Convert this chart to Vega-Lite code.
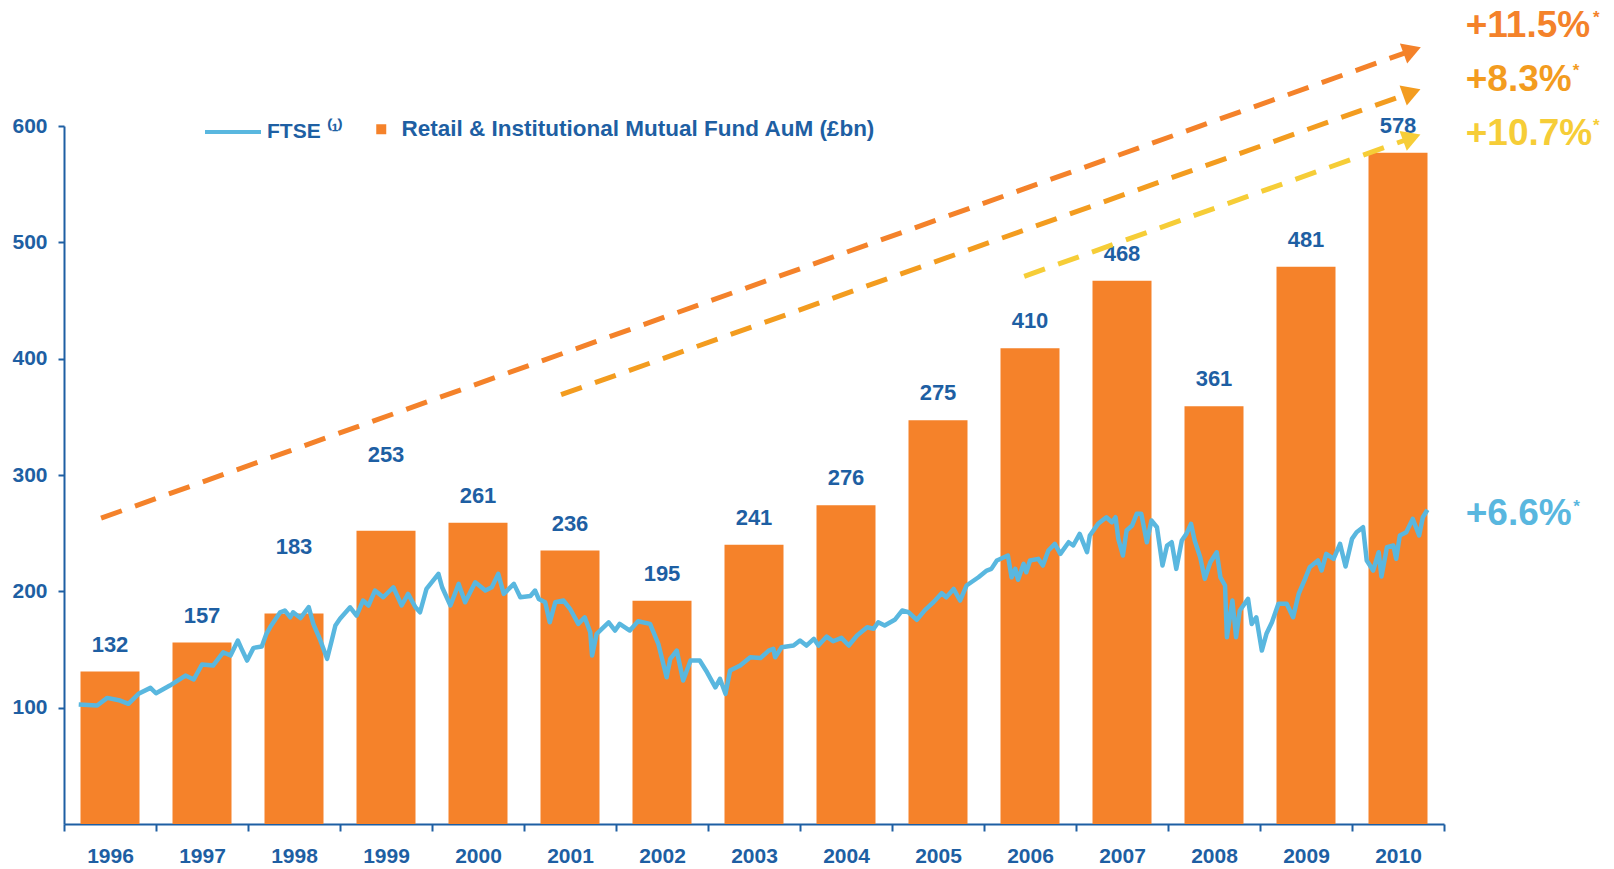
{
  "$schema": "https://vega.github.io/schema/vega-lite/v6.json",
  "width": 1380,
  "height": 698,
  "autosize": {"type": "none"},
  "padding": {"left": 64, "top": 126, "right": 170, "bottom": 45},
  "background": "white",
  "config": {
    "view": {"stroke": null},
    "font": "Liberation Sans",
    "legend": {"labelLimit": 1000, "padding": 0, "title": null}
  },
  "datasets": {
    "aum": [
      {"year": 1996, "aum": 131, "label": "132", "label_y": 131},
      {"year": 1997, "aum": 156, "label": "157", "label_y": 156},
      {"year": 1998, "aum": 181, "label": "183", "label_y": 215},
      {"year": 1999, "aum": 252, "label": "253", "label_y": 294},
      {"year": 2000, "aum": 259, "label": "261", "label_y": 259},
      {"year": 2001, "aum": 235, "label": "236", "label_y": 235},
      {"year": 2002, "aum": 192, "label": "195", "label_y": 192},
      {"year": 2003, "aum": 240, "label": "241", "label_y": 240},
      {"year": 2004, "aum": 274, "label": "276", "label_y": 274},
      {"year": 2005, "aum": 347, "label": "275", "label_y": 347},
      {"year": 2006, "aum": 409, "label": "410", "label_y": 409},
      {"year": 2007, "aum": 467, "label": "468", "label_y": 467},
      {"year": 2008, "aum": 359, "label": "361", "label_y": 359},
      {"year": 2009, "aum": 479, "label": "481", "label_y": 479},
      {"year": 2010, "aum": 577, "label": "578", "label_y": 577}
    ],
    "ftse": [
      {"t": 1995.66, "v": 102.7}, {"t": 1995.86, "v": 101.8}, {"t": 1995.97, "v": 108.4}, {"t": 1996.11, "v": 106.1},
      {"t": 1996.20, "v": 103.3}, {"t": 1996.31, "v": 111.9}, {"t": 1996.44, "v": 117.0}, {"t": 1996.50, "v": 112.4},
      {"t": 1996.65, "v": 119.0}, {"t": 1996.82, "v": 127.6}, {"t": 1996.91, "v": 124.2}, {"t": 1997.00, "v": 137.1},
      {"t": 1997.12, "v": 136.2}, {"t": 1997.23, "v": 147.6}, {"t": 1997.31, "v": 144.8}, {"t": 1997.39, "v": 157.7},
      {"t": 1997.43, "v": 150.6}, {"t": 1997.49, "v": 140.5}, {"t": 1997.56, "v": 151.4}, {"t": 1997.65, "v": 152.5},
      {"t": 1997.70, "v": 163.5}, {"t": 1997.74, "v": 169.1}, {"t": 1997.85, "v": 182.0}, {"t": 1997.90, "v": 183.5},
      {"t": 1997.96, "v": 177.7}, {"t": 1997.99, "v": 182.0}, {"t": 1998.07, "v": 177.0}, {"t": 1998.16, "v": 186.5},
      {"t": 1998.21, "v": 172.0}, {"t": 1998.28, "v": 159.2}, {"t": 1998.36, "v": 142.0}, {"t": 1998.41, "v": 157.7},
      {"t": 1998.45, "v": 170.6}, {"t": 1998.50, "v": 176.4}, {"t": 1998.61, "v": 186.3}, {"t": 1998.68, "v": 179.2},
      {"t": 1998.75, "v": 192.1}, {"t": 1998.81, "v": 187.8}, {"t": 1998.88, "v": 200.7}, {"t": 1998.97, "v": 194.9},
      {"t": 1999.08, "v": 203.5}, {"t": 1999.17, "v": 187.8}, {"t": 1999.24, "v": 197.8}, {"t": 1999.32, "v": 186.3},
      {"t": 1999.37, "v": 182.0}, {"t": 1999.44, "v": 202.1}, {"t": 1999.57, "v": 215.0}, {"t": 1999.61, "v": 203.5},
      {"t": 1999.70, "v": 187.8}, {"t": 1999.79, "v": 206.4}, {"t": 1999.86, "v": 190.6}, {"t": 1999.97, "v": 207.8},
      {"t": 2000.08, "v": 200.7}, {"t": 2000.15, "v": 203.5}, {"t": 2000.22, "v": 215.0}, {"t": 2000.28, "v": 197.8},
      {"t": 2000.39, "v": 206.4}, {"t": 2000.46, "v": 194.9}, {"t": 2000.57, "v": 196.0}, {"t": 2000.62, "v": 200.7},
      {"t": 2000.66, "v": 193.5}, {"t": 2000.73, "v": 190.6}, {"t": 2000.78, "v": 173.4}, {"t": 2000.84, "v": 190.6},
      {"t": 2000.93, "v": 192.1}, {"t": 2001.00, "v": 185.0}, {"t": 2001.09, "v": 172.0}, {"t": 2001.16, "v": 177.7},
      {"t": 2001.22, "v": 164.8}, {"t": 2001.24, "v": 144.8}, {"t": 2001.29, "v": 163.5}, {"t": 2001.42, "v": 173.4},
      {"t": 2001.49, "v": 166.3}, {"t": 2001.54, "v": 172.0}, {"t": 2001.65, "v": 166.3}, {"t": 2001.74, "v": 174.3},
      {"t": 2001.87, "v": 172.0}, {"t": 2001.96, "v": 154.9}, {"t": 2002.05, "v": 126.1}, {"t": 2002.09, "v": 142.0},
      {"t": 2002.16, "v": 149.1}, {"t": 2002.23, "v": 123.3}, {"t": 2002.31, "v": 140.5}, {"t": 2002.41, "v": 140.5},
      {"t": 2002.49, "v": 130.4}, {"t": 2002.58, "v": 117.5}, {"t": 2002.63, "v": 124.8}, {"t": 2002.69, "v": 111.9},
      {"t": 2002.74, "v": 131.9}, {"t": 2002.85, "v": 136.2}, {"t": 2002.96, "v": 143.3}, {"t": 2003.07, "v": 142.6},
      {"t": 2003.16, "v": 149.1}, {"t": 2003.21, "v": 150.6}, {"t": 2003.23, "v": 143.3}, {"t": 2003.30, "v": 151.9},
      {"t": 2003.43, "v": 153.4}, {"t": 2003.50, "v": 157.7}, {"t": 2003.57, "v": 153.4}, {"t": 2003.65, "v": 159.2},
      {"t": 2003.70, "v": 153.4}, {"t": 2003.79, "v": 161.1}, {"t": 2003.86, "v": 157.1}, {"t": 2003.95, "v": 160.0},
      {"t": 2004.03, "v": 153.4}, {"t": 2004.12, "v": 162.0}, {"t": 2004.23, "v": 169.1}, {"t": 2004.30, "v": 167.8},
      {"t": 2004.35, "v": 173.4}, {"t": 2004.42, "v": 170.6}, {"t": 2004.53, "v": 175.5}, {"t": 2004.61, "v": 183.5},
      {"t": 2004.68, "v": 182.0}, {"t": 2004.77, "v": 175.5}, {"t": 2004.86, "v": 184.1}, {"t": 2004.95, "v": 190.6},
      {"t": 2005.04, "v": 198.4}, {"t": 2005.09, "v": 194.9}, {"t": 2005.17, "v": 202.1}, {"t": 2005.24, "v": 192.1},
      {"t": 2005.31, "v": 205.0}, {"t": 2005.44, "v": 212.1}, {"t": 2005.53, "v": 217.9}, {"t": 2005.58, "v": 219.3},
      {"t": 2005.64, "v": 226.5}, {"t": 2005.76, "v": 230.8}, {"t": 2005.80, "v": 212.1}, {"t": 2005.84, "v": 219.3},
      {"t": 2005.87, "v": 209.9}, {"t": 2005.93, "v": 223.6}, {"t": 2005.96, "v": 216.4}, {"t": 2006.00, "v": 226.5},
      {"t": 2006.09, "v": 227.9}, {"t": 2006.14, "v": 222.2}, {"t": 2006.20, "v": 235.1}, {"t": 2006.27, "v": 240.8},
      {"t": 2006.33, "v": 232.2}, {"t": 2006.42, "v": 242.2}, {"t": 2006.47, "v": 239.4}, {"t": 2006.54, "v": 249.4},
      {"t": 2006.62, "v": 233.6}, {"t": 2006.65, "v": 248.0}, {"t": 2006.74, "v": 258.0}, {"t": 2006.83, "v": 263.7},
      {"t": 2006.89, "v": 259.4}, {"t": 2006.93, "v": 263.7}, {"t": 2006.96, "v": 245.1}, {"t": 2007.01, "v": 230.8},
      {"t": 2007.05, "v": 252.3}, {"t": 2007.11, "v": 256.6}, {"t": 2007.16, "v": 266.6}, {"t": 2007.21, "v": 266.6},
      {"t": 2007.27, "v": 242.2}, {"t": 2007.32, "v": 260.9}, {"t": 2007.38, "v": 255.1}, {"t": 2007.44, "v": 222.2},
      {"t": 2007.49, "v": 239.4}, {"t": 2007.54, "v": 242.2}, {"t": 2007.59, "v": 219.3}, {"t": 2007.65, "v": 243.7},
      {"t": 2007.70, "v": 249.4}, {"t": 2007.75, "v": 258.0}, {"t": 2007.79, "v": 243.7}, {"t": 2007.85, "v": 229.3},
      {"t": 2007.90, "v": 210.7}, {"t": 2007.96, "v": 225.0}, {"t": 2008.03, "v": 233.6}, {"t": 2008.07, "v": 212.0},
      {"t": 2008.12, "v": 205.0}, {"t": 2008.14, "v": 160.5}, {"t": 2008.20, "v": 192.1}, {"t": 2008.24, "v": 160.5},
      {"t": 2008.28, "v": 183.5}, {"t": 2008.37, "v": 193.5}, {"t": 2008.41, "v": 172.0}, {"t": 2008.46, "v": 177.7},
      {"t": 2008.52, "v": 149.1}, {"t": 2008.57, "v": 163.5}, {"t": 2008.63, "v": 173.4}, {"t": 2008.70, "v": 189.3},
      {"t": 2008.79, "v": 189.3}, {"t": 2008.86, "v": 177.7}, {"t": 2008.92, "v": 197.8}, {"t": 2008.99, "v": 210.7},
      {"t": 2009.04, "v": 220.7}, {"t": 2009.13, "v": 226.5}, {"t": 2009.17, "v": 217.9}, {"t": 2009.22, "v": 232.2},
      {"t": 2009.30, "v": 227.9}, {"t": 2009.37, "v": 240.8}, {"t": 2009.43, "v": 221.3}, {"t": 2009.50, "v": 245.1},
      {"t": 2009.55, "v": 250.8}, {"t": 2009.62, "v": 255.1}, {"t": 2009.66, "v": 226.5}, {"t": 2009.73, "v": 217.9},
      {"t": 2009.79, "v": 233.6}, {"t": 2009.82, "v": 212.7}, {"t": 2009.88, "v": 237.9}, {"t": 2009.95, "v": 239.4},
      {"t": 2009.98, "v": 227.9}, {"t": 2010.02, "v": 248.0}, {"t": 2010.09, "v": 250.8}, {"t": 2010.16, "v": 262.3},
      {"t": 2010.23, "v": 248.0}, {"t": 2010.27, "v": 263.7}, {"t": 2010.32, "v": 270.1}
    ],
    "trends": [
      {"series": "+11.5%", "point": "start", "t": 1995.903, "v": 262.9},
      {"series": "+11.5%", "point": "end", "t": 2010.154, "v": 665.0},
      {"series": "+8.3%", "point": "start", "t": 2000.903, "v": 369.0},
      {"series": "+8.3%", "point": "end", "t": 2010.15, "v": 628.9},
      {"series": "+10.7%", "point": "start", "t": 2005.937, "v": 470.8},
      {"series": "+10.7%", "point": "end", "t": 2010.15, "v": 589.9}
    ],
    "growth": [
      {"series": "+11.5%", "t": 2010.736, "v": 676.8, "ts": 2012.12, "vs": 688.6},
      {"series": "+8.3%", "t": 2010.736, "v": 630.4, "ts": 2011.899, "vs": 643.3},
      {"series": "+10.7%", "t": 2010.736, "v": 583.7, "ts": 2012.12, "vs": 596.1},
      {"series": "+6.6%", "t": 2010.736, "v": 257.0, "ts": 2011.905, "vs": 268.5}
    ]
  },
  "layer": [
    {
      "data": {"name": "aum"},
      "mark": {"type": "bar", "size": 59},
      "encoding": {
        "x": {
          "field": "year", "type": "quantitative",
          "scale": {"domain": [1995.5, 2010.5], "nice": false, "zero": false, "padding": 0},
          "axis": {
            "title": null, "grid": false,
            "values": [1995.5, 1996, 1996.5, 1997, 1997.5, 1998, 1998.5, 1999, 1999.5, 2000, 2000.5, 2001, 2001.5, 2002, 2002.5, 2003, 2003.5, 2004, 2004.5, 2005, 2005.5, 2006, 2006.5, 2007, 2007.5, 2008, 2008.5, 2009, 2009.5, 2010, 2010.5],
            "labelExpr": "datum.value % 1 === 0 ? format(datum.value, 'd') : ''",
            "labelOverlap": false, "labelFlush": false, "labelBound": false,
            "tickSize": 7, "tickWidth": 2, "tickColor": "#1E5FA3",
            "tickOpacity": {"condition": {"test": "datum.value % 1 === 0", "value": 0}, "value": 1},
            "domainColor": "#1E5FA3", "domainWidth": 2,
            "labelFont": "Liberation Sans", "labelFontSize": 21, "labelFontWeight": "bold",
            "labelColor": "#1E5FA3", "labelPadding": 14
          }
        },
        "y": {
          "field": "aum", "type": "quantitative",
          "scale": {"domain": [0, 600], "nice": false},
          "axis": {
            "title": null, "grid": false,
            "values": [100, 200, 300, 400, 500, 600],
            "tickSize": 6, "tickWidth": 2, "tickColor": "#1E5FA3",
            "domainColor": "#1E5FA3", "domainWidth": 2,
            "labelFont": "Liberation Sans", "labelFontSize": 21, "labelFontWeight": "bold",
            "labelColor": "#1E5FA3", "labelPadding": 11
          }
        },
        "color": {
          "datum": "Retail & Institutional Mutual Fund AuM (£bn)", "type": "nominal",
          "scale": {"range": ["#F5822A"]},
          "legend": {
            "orient": "none", "legendX": 306, "legendY": -8,
            "symbolType": "square", "symbolSize": 100, "symbolStrokeWidth": 0,
            "labelOffset": 9, "labelFont": "Liberation Sans", "labelFontSize": 22.5,
            "labelFontWeight": "bold", "labelColor": "#1E5FA3"
          }
        }
      }
    },
    {
      "data": {"name": "ftse"},
      "mark": {"type": "line", "strokeWidth": 4.5, "strokeJoin": "round"},
      "encoding": {
        "x": {"field": "t", "type": "quantitative"},
        "y": {"field": "v", "type": "quantitative"},
        "color": {
          "datum": "FTSE ⁽¹⁾", "type": "nominal",
          "scale": {"range": ["#59B7DF"]},
          "legend": {
            "orient": "none", "legendX": 139, "legendY": -24,
            "symbolType": "stroke", "symbolSize": 3136, "symbolStrokeWidth": 4,
            "labelOffset": 4, "labelFont": "Liberation Sans", "labelFontSize": 21,
            "labelFontWeight": "bold", "labelColor": "#1E5FA3"
          }
        }
      }
    },
    {
      "data": {"name": "aum"},
      "mark": {"type": "text", "align": "center", "baseline": "alphabetic", "dy": -20, "font": "Liberation Sans", "fontSize": 22, "fontWeight": "bold", "color": "#1E5FA3"},
      "encoding": {
        "x": {"field": "year", "type": "quantitative"},
        "y": {"field": "label_y", "type": "quantitative"},
        "text": {"field": "label"}
      }
    },
    {
      "data": {"name": "trends"},
      "mark": {"type": "line", "strokeWidth": 5, "strokeDash": [22, 14], "clip": false},
      "encoding": {
        "x": {"field": "t", "type": "quantitative"},
        "y": {"field": "v", "type": "quantitative"},
        "color": {
          "field": "series", "type": "nominal", "legend": null,
          "scale": {"domain": ["+11.5%", "+8.3%", "+10.7%", "+6.6%"], "range": ["#F4822A", "#F39C1F", "#F6CD37", "#59B7DF"]}
        }
      }
    },
    {
      "data": {"name": "trends"},
      "transform": [{"filter": "datum.point === 'end'"}],
      "mark": {"type": "point", "shape": "triangle-right", "filled": true, "opacity": 1, "size": 450, "angle": -20, "clip": false},
      "encoding": {
        "x": {"field": "t", "type": "quantitative"},
        "y": {"field": "v", "type": "quantitative"},
        "color": {
          "field": "series", "type": "nominal", "legend": null,
          "scale": {"domain": ["+11.5%", "+8.3%", "+10.7%", "+6.6%"], "range": ["#F4822A", "#F39C1F", "#F6CD37", "#59B7DF"]}
        }
      }
    },
    {
      "data": {"name": "growth"},
      "mark": {"type": "text", "align": "left", "baseline": "alphabetic", "font": "Liberation Sans", "fontSize": 37, "fontWeight": "bold", "clip": false},
      "encoding": {
        "x": {"field": "t", "type": "quantitative"},
        "y": {"field": "v", "type": "quantitative"},
        "text": {"field": "series"},
        "color": {
          "field": "series", "type": "nominal", "legend": null,
          "scale": {"domain": ["+11.5%", "+8.3%", "+10.7%", "+6.6%"], "range": ["#F4822A", "#F39C1F", "#F6CD37", "#59B7DF"]}
        }
      }
    },
    {
      "data": {"name": "growth"},
      "mark": {"type": "text", "align": "left", "baseline": "alphabetic", "font": "Liberation Sans", "fontSize": 17, "fontWeight": "bold", "clip": false, "text": "*"},
      "encoding": {
        "x": {"field": "ts", "type": "quantitative"},
        "y": {"field": "vs", "type": "quantitative"},
        "color": {
          "field": "series", "type": "nominal", "legend": null,
          "scale": {"domain": ["+11.5%", "+8.3%", "+10.7%", "+6.6%"], "range": ["#F4822A", "#F39C1F", "#F6CD37", "#59B7DF"]}
        }
      }
    }
  ],
  "resolve": {"scale": {"color": "independent"}}
}
